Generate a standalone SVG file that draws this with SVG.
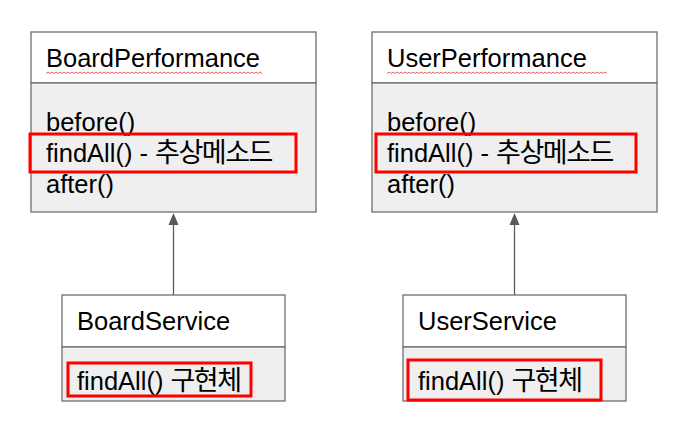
<svg xmlns="http://www.w3.org/2000/svg" width="689" height="446" viewBox="0 0 689 446">
<defs>
<style>
.box{fill:#ffffff;stroke:#6f6f6f;stroke-width:1.3}
.sec{fill:#efefef;stroke:#6f6f6f;stroke-width:1.3}
.t{font-family:"Liberation Sans","Noto Sans CJK KR",Arial,sans-serif;font-size:25.5px;fill:#000}
.k{font-family:"Noto Sans CJK KR",sans-serif;font-size:27px;letter-spacing:-1.5px}
.hl{fill:none;stroke:#ff0000;stroke-width:3}
.sq{fill:none;stroke:#e86060;stroke-width:1}
.conn{stroke:#595959;stroke-width:1.3;fill:none}
</style>
</defs>
<rect width="689" height="446" fill="#ffffff"/>
<g id="connectors">
<line class="conn" x1="173.5" y1="295" x2="173.5" y2="225"/>
<path d="M173.5 213 L178.5 225 L168.5 225 Z" fill="#595959"/>
<line class="conn" x1="514.5" y1="295" x2="514.5" y2="225"/>
<path d="M514.5 213 L519.5 225 L509.5 225 Z" fill="#595959"/>
</g>
<g id="BoardPerformance">
<rect class="box" x="31" y="32" width="285" height="51"/>
<rect class="sec" x="31" y="83" width="285" height="129"/>
<text class="t" x="46" y="67">BoardPerformance</text>
<path class="sq" d="M46 73.5 l2 -1.5 l2 1.5 l2 -1.5 l2 1.5 l2 -1.5 l2 1.5 l2 -1.5 l2 1.5 l2 -1.5 l2 1.5 l2 -1.5 l2 1.5 l2 -1.5 l2 1.5 l2 -1.5 l2 1.5 l2 -1.5 l2 1.5 l2 -1.5 l2 1.5 l2 -1.5 l2 1.5 l2 -1.5 l2 1.5 l2 -1.5 l2 1.5 l2 -1.5 l2 1.5 l2 -1.5 l2 1.5 l2 -1.5 l2 1.5 l2 -1.5 l2 1.5 l2 -1.5 l2 1.5 l2 -1.5 l2 1.5 l2 -1.5 l2 1.5 l2 -1.5 l2 1.5 l2 -1.5 l2 1.5 l2 -1.5 l2 1.5 l2 -1.5 l2 1.5 l2 -1.5 l2 1.5 l2 -1.5 l2 1.5 l2 -1.5 l2 1.5 l2 -1.5 l2 1.5 l2 -1.5 l2 1.5 l2 -1.5 l2 1.5 l2 -1.5 l2 1.5 l2 -1.5 l2 1.5 l2 -1.5 l2 1.5 l2 -1.5 l2 1.5 l2 -1.5 l2 1.5 l2 -1.5 l2 1.5 l2 -1.5 l2 1.5 l2 -1.5 l2 1.5 l2 -1.5 l2 1.5 l2 -1.5 l2 1.5 l2 -1.5 l2 1.5 l2 -1.5 l2 1.5 l2 -1.5 l2 1.5 l2 -1.5 l2 1.5 l2 -1.5 l2 1.5 l2 -1.5 l2 1.5 l2 -1.5 l2 1.5 l2 -1.5 l2 1.5 l2 -1.5 l2 1.5 l2 -1.5 l2 1.5 l2 -1.5 l2 1.5 l2 -1.5 l2 1.5 l2 -1.5 l2 1.5 l2 -1.5 l2 1.5"/>
<text class="t" x="46" y="131">before()</text>
<text class="t" x="46" y="162">findAll() - <tspan class="k">추상메소드</tspan></text>
<text class="t" x="46" y="193">after()</text>
<rect class="hl" x="30" y="134" width="266" height="38"/>
</g>
<g id="UserPerformance">
<rect class="box" x="372" y="32" width="285" height="51"/>
<rect class="sec" x="372" y="83" width="285" height="129"/>
<text class="t" x="387" y="67">UserPerformance</text>
<path class="sq" d="M387 73.5 l2 -1.5 l2 1.5 l2 -1.5 l2 1.5 l2 -1.5 l2 1.5 l2 -1.5 l2 1.5 l2 -1.5 l2 1.5 l2 -1.5 l2 1.5 l2 -1.5 l2 1.5 l2 -1.5 l2 1.5 l2 -1.5 l2 1.5 l2 -1.5 l2 1.5 l2 -1.5 l2 1.5 l2 -1.5 l2 1.5 l2 -1.5 l2 1.5 l2 -1.5 l2 1.5 l2 -1.5 l2 1.5 l2 -1.5 l2 1.5 l2 -1.5 l2 1.5 l2 -1.5 l2 1.5 l2 -1.5 l2 1.5 l2 -1.5 l2 1.5 l2 -1.5 l2 1.5 l2 -1.5 l2 1.5 l2 -1.5 l2 1.5 l2 -1.5 l2 1.5 l2 -1.5 l2 1.5 l2 -1.5 l2 1.5 l2 -1.5 l2 1.5 l2 -1.5 l2 1.5 l2 -1.5 l2 1.5 l2 -1.5 l2 1.5 l2 -1.5 l2 1.5 l2 -1.5 l2 1.5 l2 -1.5 l2 1.5 l2 -1.5 l2 1.5 l2 -1.5 l2 1.5 l2 -1.5 l2 1.5 l2 -1.5 l2 1.5 l2 -1.5 l2 1.5 l2 -1.5 l2 1.5 l2 -1.5 l2 1.5 l2 -1.5 l2 1.5 l2 -1.5 l2 1.5 l2 -1.5 l2 1.5 l2 -1.5 l2 1.5 l2 -1.5 l2 1.5 l2 -1.5 l2 1.5 l2 -1.5 l2 1.5 l2 -1.5 l2 1.5 l2 -1.5 l2 1.5 l2 -1.5 l2 1.5 l2 -1.5 l2 1.5 l2 -1.5 l2 1.5 l2 -1.5 l2 1.5 l2 -1.5 l2 1.5 l2 -1.5 l2 1.5"/>
<text class="t" x="387" y="131">before()</text>
<text class="t" x="387" y="162">findAll() - <tspan class="k">추상메소드</tspan></text>
<text class="t" x="387" y="193">after()</text>
<rect class="hl" x="376" y="134" width="260" height="38"/>
</g>
<g id="BoardService">
<rect class="box" x="62" y="295" width="223" height="52"/>
<rect class="sec" x="62" y="347" width="223" height="54"/>
<text class="t" x="77" y="330">BoardService</text>
<text class="t" x="77" y="390">findAll() <tspan class="k">구현체</tspan></text>
<rect class="hl" x="68" y="363" width="183" height="33"/>
</g>
<g id="UserService">
<rect class="box" x="403" y="295" width="223" height="52"/>
<rect class="sec" x="403" y="347" width="223" height="54"/>
<text class="t" x="418" y="330">UserService</text>
<text class="t" x="418" y="390">findAll() <tspan class="k">구현체</tspan></text>
<rect class="hl" x="408" y="360" width="193" height="40"/>
</g>
</svg>
